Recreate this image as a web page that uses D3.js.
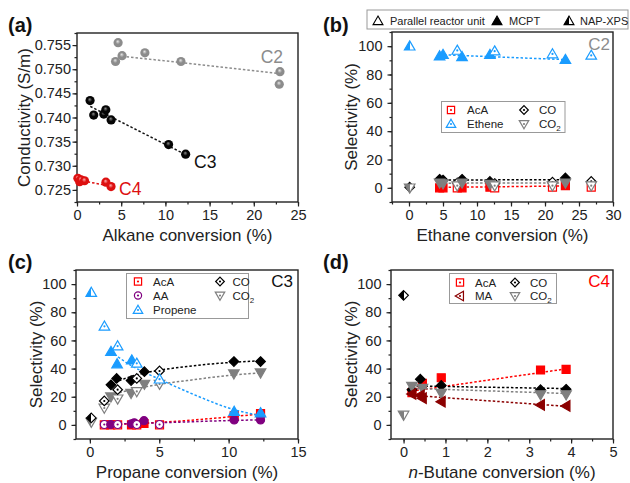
<!DOCTYPE html>
<html><head><meta charset="utf-8">
<script src="https://cdn.jsdelivr.net/npm/d3@7"></script>
<style>
body{margin:0;background:#fff;}
text{font-family:"Liberation Sans",Arial,Helvetica,sans-serif;}
</style></head>
<body><svg id="c" width="630" height="483"></svg>
<script>
// ---------------- DATA ----------------
// Panel (a): conductivity vs alkane conversion
const aC2X = [4.36, 4.65, 5.1, 7.68, 11.76, 22.88, 22.96];
const aC2Y = [0.7516, 0.7555, 0.7528, 0.7534, 0.7516, 0.7469, 0.7495];
const aC3X = [1.48, 1.89, 3.03, 3.26, 3.86, 10.36, 12.29];
const aC3Y = [0.7435, 0.7405, 0.7407, 0.7416, 0.7395, 0.7344, 0.7324];
const aC4X = [0.1, 0.3, 0.45, 0.85, 3.27, 3.85];
const aC4Y = [0.7274, 0.7267, 0.7271, 0.7269, 0.7266, 0.7257];
const aFitC2 = [[5.1, 0.7527], [23.0, 0.7491]];
const aFitC3 = [[1.5, 0.7423], [12.3, 0.7323]];
const aFitC4 = [[0.2, 0.7270], [3.85, 0.7258]];
const aXTicks = [0, 5, 10, 15, 20, 25];
const aYTicks = [0.725, 0.730, 0.735, 0.740, 0.745, 0.750, 0.755];

// Panel (b): C2 selectivity vs ethane conversion
const bX = [0.1, 4.5, 5.0, 7.1, 7.8, 11.9, 12.6, 21.1, 23.0, 26.8];
const bMethod = ["N", "M", "M", "P", "M", "M", "P", "P", "M", "P"];
const bEthene = [100, 93, 94, 97, 92.5, 94, 96.5, 94.5, 90.5, 93.5];
const bCO = [0.5, 6, 5.5, 3.5, 6, 4.5, 3, 4, 7, 4.5];
const bCO2 = [0, 3.5, 3, 1.5, 3.5, 2.5, 1.5, 1.5, 3.5, 1.5];
const bAcA = [null, 0, 0, 0, 0, 0.5, 0, 0.5, 1.5, 0.5];
const bFitEthene = [[4.5, 94], [23, 90.5]];
const bFitCO = [[4.5, 5.5], [23, 5.8]];
const bFitCO2 = [[4.5, 3.3], [23, 3.4]];
const bFitAcA = [[4.5, 0.3], [23, 1.3]];
const bXTicks = [0, 5, 10, 15, 20, 25, 30];
const selTicks = [0, 20, 40, 60, 80, 100];

// Panel (c): C3 selectivity vs propane conversion
const cPropX = [0.1, 1.05, 1.52, 2.0, 1.96, 3.02, 3.38, 5.02, 10.4, 12.3];
const cPropY = [94, 70, 52, 56, 43.3, 46, 43.7, 32.5, 9.5, 8.5];
const cPropM = ["N", "P", "M", "P", "M", "M", "P", "P", "M", "M"];
const cCOX = [0.1, 1.04, 1.52, 1.93, 2.0, 2.97, 3.38, 3.93, 5.02, 10.38, 12.3];
const cCOY = [5, 17, 28.5, 33, 25, 31.5, 33, 37.8, 38.3, 45, 45];
const cCOM = ["N", "P", "M", "M", "P", "M", "P", "M", "P", "M", "M"];
const cCO2X = [0.1, 1.04, 1.52, 2.0, 2.97, 3.38, 3.93, 5.02, 10.38, 12.3];
const cCO2Y = [2, 12, 20, 18.5, 22.5, 23.8, 29, 29, 36.3, 37];
const cCO2M = ["N", "P", "M", "P", "M", "P", "M", "P", "M", "M"];
const cAcAX = [1.04, 1.5, 2.0, 3.0, 3.38, 3.9, 5.02, 10.4, 12.3];
const cAcAY = [0, 0, 0, 0, 0, 1, 0, 6.5, 8];
const cAcAM = ["P", "M", "P", "M", "P", "M", "P", "M", "M"];
const cAAX = [1.04, 1.5, 2.0, 3.0, 3.2, 3.38, 3.9, 5.02, 10.4, 12.3];
const cAAY = [0.3, 0.3, 0.3, 0.8, 1.5, 0.3, 3, 0.3, 3.5, 3.5];
const cAAM = ["P", "M", "P", "M", "M", "P", "M", "P", "M", "M"];
const cFitProp = [[1.5, 52], [2, 48.5], [3, 42], [4, 37], [5, 32.5], [6, 28], [8, 19.5], [10, 12], [12.3, 6.5]];
const cFitCO = [[1.5, 29], [2, 31], [3, 34.5], [4, 37], [5, 38.8], [7, 41.5], [10.4, 44.5], [12.3, 45.5]];
const cFitCO2 = [[1.5, 21], [2, 22.5], [3, 25], [4, 27], [5, 28.8], [7, 31.5], [10.4, 35.5], [12.3, 37]];
const cFitAcA = [[1.5, 0.3], [5, 1.8], [10.4, 6], [12.3, 7.8]];
const cFitAA = [[1.5, 0.5], [5, 1.5], [10.4, 3.2], [12.3, 3.6]];
const cXTicks = [0, 5, 10, 15];

// Panel (d): C4 selectivity vs n-butane conversion
const dAcAX = [0.2, 0.45, 0.9, 3.27, 3.88];
const dAcAY = [23, 29.5, 33.5, 39, 39.5];
const dCOX = [0, 0.2, 0.4, 0.9, 3.27, 3.88];
const dCOY = [92, 25, 32.5, 28, 25, 25.3];
const dCO2X = [0, 0.2, 0.45, 0.9, 3.27, 3.88];
const dCO2Y = [7, 27.5, 26, 22.5, 21.5, 21.5];
const dMAX = [0.2, 0.4, 0.45, 0.9, 3.27, 3.88];
const dMAY = [22, 21, 19, 16.5, 14.2, 13.5];
const dNapFirst = ["N", "M", "M", "M", "M", "M"];
const dFitAcA = [[0.2, 24], [3.88, 39.8]];
const dFitCO = [[0.2, 27.7], [3.88, 25.8]];
const dFitCO2 = [[0.2, 26], [3.88, 22.3]];
const dFitMA = [[0.2, 21], [3.88, 13.2]];
const dXTicks = [0, 1, 2, 3, 4, 5];

// ---------------- STYLE ----------------
const COL = {red: "#ff0000", blue: "#1a9cff", black: "#000000", gray: "#7f7f7f", purple: "#800080", dred: "#8b0000"};
const svg = d3.select("#c");
const defs = svg.append("defs");

function halfGrad(color) {
  const id = "half" + color.replace("#", "");
  if (defs.select("#" + id).empty()) {
    const lg = defs.append("linearGradient").attr("id", id).attr("x1", 0).attr("x2", 1).attr("y1", 0).attr("y2", 0);
    lg.append("stop").attr("offset", "0").attr("stop-color", color);
    lg.append("stop").attr("offset", "0.5").attr("stop-color", color);
    lg.append("stop").attr("offset", "0.5").attr("stop-color", "#fff");
    lg.append("stop").attr("offset", "1").attr("stop-color", "#fff");
  }
  return id;
}
function sphereGrad(id, light, base) {
  const rg = defs.append("radialGradient").attr("id", id).attr("cx", "50%").attr("cy", "50%").attr("r", "55%").attr("fx", "45%").attr("fy", "35%");
  rg.append("stop").attr("offset", "0").attr("stop-color", light);
  rg.append("stop").attr("offset", "0.45").attr("stop-color", base);
  rg.append("stop").attr("offset", "1").attr("stop-color", base);
}
sphereGrad("sphC2", "#e6e6e6", "#8c8c8c");
sphereGrad("sphC3", "#8a8a8a", "#050505");
sphereGrad("sphC4", "#ffb0b0", "#dd1010");

function symPath(shape, r) {
  switch (shape) {
    case "square": return `M${-r},${-r}h${2 * r}v${2 * r}h${-2 * r}Z`;
    case "diamond": return `M0,${-r}L${r},0L0,${r}L${-r},0Z`;
    case "up": return `M0,${-1.1 * r}L${1.1 * r},${0.8 * r}L${-1.1 * r},${0.8 * r}Z`;
    case "down": return `M0,${1.1 * r}L${1.1 * r},${-0.8 * r}L${-1.1 * r},${-0.8 * r}Z`;
    case "left": return `M${-1.1 * r},0L${0.8 * r},${-1.1 * r}L${0.8 * r},${1.1 * r}Z`;
    default: return `M${r},0A${r},${r} 0 1,1 ${-r},0A${r},${r} 0 1,1 ${r},0Z`;
  }
}
const R = {square: 4, diamond: 4.8, up: 4.8, down: 4.8, left: 4.8, circle: 4};

function marker(g, tx, ty, shape, color, m, scale) {
  const s = scale || 1;
  const gg = g.append("g").attr("transform", `translate(${tx},${ty})`);
  const fill = m === "M" ? color : m === "P" ? "#fff" : `url(#${halfGrad(color)})`;
  gg.append("path").attr("d", symPath(shape, R[shape] * s)).attr("fill", fill)
    .attr("stroke", color).attr("stroke-width", 1.2).attr("stroke-linejoin", "miter");
  if (m === "P") gg.append("circle").attr("r", 1.1).attr("fill", color);
  return gg;
}

function makePanel(c) {
  const x = d3.scaleLinear().domain(c.xd).range([c.L, c.R]);
  const y = d3.scaleLinear().domain(c.yd).range([c.B, c.T]);
  const g = svg.append("g");
  const st = sel => {
    sel.select(".domain").remove();
    sel.selectAll("line").attr("stroke", "#222").attr("stroke-width", 1.2);
    sel.selectAll("text").attr("font-size", "14.5px").attr("fill", "#222").style("font-family", '"Liberation Sans",Arial,sans-serif');
  };
  g.append("g").attr("transform", `translate(0,${c.B})`)
    .call(d3.axisBottom(x).tickValues(c.xMinor).tickSize(2.5).tickFormat("")).call(st);
  g.append("g").attr("transform", `translate(0,${c.B})`)
    .call(d3.axisBottom(x).tickValues(c.xt).tickSize(4.5).tickPadding(3).tickFormat(c.xf || d3.format("d"))).call(st);
  g.append("g").attr("transform", `translate(${c.L},0)`)
    .call(d3.axisLeft(y).tickValues(c.yMinor).tickSize(2.5).tickFormat("")).call(st);
  g.append("g").attr("transform", `translate(${c.L},0)`)
    .call(d3.axisLeft(y).tickValues(c.yt).tickSize(4.5).tickPadding(c.ypad).tickFormat(c.yf || d3.format("d"))).call(st);
  g.append("rect").attr("x", c.L).attr("y", c.T).attr("width", c.R - c.L).attr("height", c.B - c.T)
    .attr("fill", "none").attr("stroke", "#222").attr("stroke-width", 1.4);
  const xt = g.append("text").attr("x", (c.L + c.R) / 2).attr("y", c.B + 39).attr("text-anchor", "middle")
    .attr("font-size", "17px").attr("fill", "#222");
  if (c.xtitleItalic) { xt.append("tspan").attr("font-style", "italic").text(c.xtitleItalic); }
  xt.append("tspan").text(c.xtitle);
  g.append("text").attr("transform", `translate(${c.ytx},${(c.T + c.B) / 2}) rotate(-90)`).attr("text-anchor", "middle")
    .attr("font-size", "17px").attr("fill", "#222").text(c.ytitle);
  g.append("text").attr("x", c.lx).attr("y", c.ly).attr("font-size", "20px").attr("font-weight", "bold").attr("fill", "#111").text(c.label);
  const lines = g.append("g"), pts = g.append("g");
  return {x, y, g, lines, pts};
}
const range = (a, b, s) => d3.range(a, b + s / 2, s);

function fit(p, data, color) {
  p.lines.append("path").datum(data)
    .attr("d", d3.line().x(d => p.x(d[0])).y(d => p.y(d[1])).curve(d3.curveMonotoneX))
    .attr("fill", "none").attr("stroke", color).attr("stroke-width", 1.5).attr("stroke-dasharray", "2.5,2");
}
function series(p, xs, ys, ms, shape, color) {
  xs.forEach((xv, i) => {
    if (ys[i] === null) return;
    marker(p.pts, p.x(xv), p.y(ys[i]), shape, color, ms ? ms[i] : "M");
  });
}
function sub2(t, base) {
  t.append("tspan").text(base);
  t.append("tspan").attr("font-size", "8px").attr("dy", 3).text("2");
}
function legend(box, items) {
  svg.append("rect").attr("x", box[0]).attr("y", box[1]).attr("width", box[2]).attr("height", box[3])
    .attr("fill", "#fff").attr("stroke", "#999").attr("stroke-width", 1);
  items.forEach(it => {
    marker(svg, it.sx, it.sy, it.shape, it.color, "P", 0.9);
    const t = svg.append("text").attr("x", it.tx).attr("y", it.sy + 4.2).attr("font-size", "11.5px").attr("fill", "#222");
    if (it.sub) sub2(t, it.name); else t.text(it.name);
  });
}

// ---------------- PANEL (a) ----------------
const pa = makePanel({L: 77, R: 298, T: 33, B: 202, xd: [0, 25], yd: [0.7225, 0.7575],
  xt: aXTicks, xMinor: range(0, 25, 2.5), yt: aYTicks, yMinor: range(0.7225, 0.7575, 0.0025), ypad: 1.5,
  yf: d3.format(".3f"), xtitle: "Alkane conversion (%)", ytitle: "Conductivity (S/m)", ytx: 30, label: "(a)", lx: 8, ly: 32});
fit(pa, aFitC2, "#8c8c8c"); fit(pa, aFitC3, "#111"); fit(pa, aFitC4, "#dd1010");
[[aC2X, aC2Y, "sphC2"], [aC3X, aC3Y, "sphC3"], [aC4X, aC4Y, "sphC4"]].forEach(([xs, ys, gid]) => {
  xs.forEach((xv, i) => pa.pts.append("circle").attr("cx", pa.x(xv)).attr("cy", pa.y(ys[i])).attr("r", 4.6).attr("fill", `url(#${gid})`));
});
pa.g.append("text").attr("x", 283).attr("y", 63).attr("text-anchor", "end").attr("font-size", "17.5px").attr("fill", "#8c8c8c").text("C2");
pa.g.append("text").attr("x", 194).attr("y", 168).attr("font-size", "17.5px").attr("fill", "#111").text("C3");
pa.g.append("text").attr("x", 119).attr("y", 195).attr("font-size", "17.5px").attr("fill", "#dd1010").text("C4");

// ---------------- PANEL (b) ----------------
const pb = makePanel({L: 392, R: 613, T: 32, B: 202, xd: [-2.5, 30], yd: [-10, 110],
  xt: bXTicks, xMinor: range(-2.5, 30, 2.5), yt: selTicks, yMinor: range(-10, 110, 10), ypad: 5,
  xtitle: "Ethane conversion (%)", ytitle: "Selectivity (%)", ytx: 357, label: "(b)", lx: 323, ly: 32});
fit(pb, bFitAcA, COL.red); fit(pb, bFitCO2, COL.gray); fit(pb, bFitCO, COL.black); fit(pb, bFitEthene, COL.blue);
series(pb, bX, bAcA, bMethod, "square", COL.red);
series(pb, bX, bCO, bMethod, "diamond", COL.black);
series(pb, bX, bCO2, bMethod, "down", COL.gray);
series(pb, bX, bEthene, bMethod, "up", COL.blue);
pb.g.append("text").attr("x", 610).attr("y", 50).attr("text-anchor", "end").attr("font-size", "17px").attr("fill", "#8c8c8c").text("C2");
legend([441.5, 101.5, 123.5, 31], [
  {sx: 451, sy: 110, tx: 467, shape: "square", color: COL.red, name: "AcA"},
  {sx: 451, sy: 124, tx: 467, shape: "up", color: COL.blue, name: "Ethene"},
  {sx: 524, sy: 110, tx: 539, shape: "diamond", color: COL.black, name: "CO"},
  {sx: 524, sy: 124, tx: 539, shape: "down", color: COL.gray, name: "CO", sub: true}]);

// top method legend
svg.append("rect").attr("x", 367).attr("y", 10).attr("width", 261).attr("height", 19).attr("fill", "#fff").attr("stroke", "#999");
[{x: 378, m: "O", t: "Parallel reactor unit", tx: 390}, {x: 497, m: "M", t: "MCPT", tx: 509}, {x: 569, m: "N", t: "NAP-XPS", tx: 580}].forEach(it => {
  const fill = it.m === "M" ? "#000" : it.m === "O" ? "#fff" : `url(#${halfGrad("#000000")})`;
  svg.append("path").attr("transform", `translate(${it.x},21)`).attr("d", symPath("up", 4.5)).attr("fill", fill).attr("stroke", "#000").attr("stroke-width", 1.1);
  svg.append("text").attr("x", it.tx).attr("y", 24.5).attr("font-size", "11px").attr("fill", "#222").text(it.t);
});

// ---------------- PANEL (c) ----------------
const pc = makePanel({L: 76, R: 298, T: 270, B: 439, xd: [-1, 15], yd: [-10, 110],
  xt: cXTicks, xMinor: [0, 2.5, 5, 7.5, 10, 12.5, 15], yt: selTicks, yMinor: range(-10, 110, 10), ypad: 5,
  xtitle: "Propane conversion (%)", ytitle: "Selectivity (%)", ytx: 42, label: "(c)", lx: 8, ly: 269});
fit(pc, cFitAcA, COL.red); fit(pc, cFitAA, COL.purple); fit(pc, cFitCO2, COL.gray); fit(pc, cFitCO, COL.black); fit(pc, cFitProp, COL.blue);
series(pc, cAcAX, cAcAY, cAcAM, "square", COL.red);
series(pc, cAAX, cAAY, cAAM, "circle", COL.purple);
series(pc, cCO2X, cCO2Y, cCO2M, "down", COL.gray);
series(pc, cCOX, cCOY, cCOM, "diamond", COL.black);
series(pc, cPropX, cPropY, cPropM, "up", COL.blue);
pc.g.append("text").attr("x", 293).attr("y", 287).attr("text-anchor", "end").attr("font-size", "17px").attr("fill", "#111").text("C3");
legend([126.5, 273.5, 122, 45], [
  {sx: 138, sy: 281.5, tx: 153, shape: "square", color: COL.red, name: "AcA"},
  {sx: 138, sy: 295.5, tx: 153, shape: "circle", color: COL.purple, name: "AA"},
  {sx: 138, sy: 310, tx: 153, shape: "up", color: COL.blue, name: "Propene"},
  {sx: 220, sy: 281.5, tx: 232.5, shape: "diamond", color: COL.black, name: "CO"},
  {sx: 220, sy: 295.5, tx: 232.5, shape: "down", color: COL.gray, name: "CO", sub: true}]);

// ---------------- PANEL (d) ----------------
const pd = makePanel({L: 391, R: 613, T: 270, B: 439, xd: [-0.3, 5], yd: [-10, 110],
  xt: dXTicks, xMinor: range(0, 5, 0.5), yt: selTicks, yMinor: range(-10, 110, 10), ypad: 5,
  xtitle: "-Butane conversion (%)", xtitleItalic: "n", ytitle: "Selectivity (%)", ytx: 357, label: "(d)", lx: 323, ly: 269});
fit(pd, dFitAcA, COL.red); fit(pd, dFitCO, COL.black); fit(pd, dFitCO2, COL.gray); fit(pd, dFitMA, COL.dred);
series(pd, dAcAX, dAcAY, null, "square", COL.red);
series(pd, dCOX, dCOY, dNapFirst, "diamond", COL.black);
series(pd, dCO2X, dCO2Y, dNapFirst, "down", COL.gray);
series(pd, dMAX, dMAY, null, "left", COL.dred);
pd.g.append("text").attr("x", 610).attr("y", 287).attr("text-anchor", "end").attr("font-size", "17px").attr("fill", COL.red).text("C4");
legend([449.5, 273.5, 107, 30], [
  {sx: 460, sy: 282.5, tx: 475, shape: "square", color: COL.red, name: "AcA"},
  {sx: 460, sy: 296, tx: 475, shape: "left", color: COL.dred, name: "MA"},
  {sx: 515, sy: 282.5, tx: 530, shape: "diamond", color: COL.black, name: "CO"},
  {sx: 515, sy: 296, tx: 530, shape: "down", color: COL.gray, name: "CO", sub: true}]);
</script>
</body></html>
